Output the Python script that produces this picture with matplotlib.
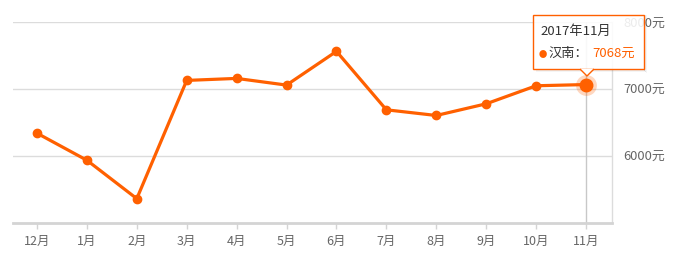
import matplotlib.pyplot as plt
from matplotlib.patches import Rectangle, Polygon

plt.rcParams['font.family'] = ['Noto Sans CJK SC', 'DejaVu Sans']

# data
months = ['12月', '1月', '2月', '3月', '4月', '5月', '6月', '7月', '8月', '9月', '10月', '11月']
prices = [6340, 5935, 5360, 7130, 7160, 7060, 7565, 6690, 6605, 6780, 7050, 7068]
yticks = [6000, 7000, 8000]
series_name = '汉南'
tip_title = '2017年11月'

orange = '#ff6000'
grid_c = '#dcdcdc'
text_c = '#666666'

fig = plt.figure(figsize=(6.9, 2.7), dpi=100)
ax = fig.add_axes([13 / 690, 1 - 222.7 / 270, (612 - 13) / 690, (222.7 - 22.3) / 270])

x = list(range(len(months)))
ax.set_xlim(-0.48, 11.52)
ax.set_ylim(5000, 8000)

# grid lines
for v in yticks:
    ax.axhline(v, color=grid_c, lw=1, zorder=1)

# crosshair at last point
ax.axvline(x[-1], color='#c8c8c8', lw=1, zorder=1)

ax.plot(x, prices, color=orange, lw=2.3, marker='o', ms=6, zorder=3, solid_joinstyle='round')
# highlighted last point
ax.plot(x[-1], prices[-1], 'o', color=orange, ms=15, alpha=0.25, mec='none', zorder=4)
ax.plot(x[-1], prices[-1], 'o', color=orange, ms=9, zorder=5)

for s in ['left', 'top']:
    ax.spines[s].set_visible(False)
ax.spines['bottom'].set_color('#d4d4d4')
ax.spines['bottom'].set_linewidth(2)
ax.spines['right'].set_color('#dcdcdc')
ax.spines['right'].set_linewidth(1)

ax.set_xticks(x)
ax.set_xticklabels(months, fontsize=9, color=text_c)
ax.tick_params(axis='x', length=4, width=1, color='#d4d4d4', pad=5)

ax.yaxis.tick_right()
ax.set_yticks(yticks)
ax.set_yticklabels([f'{v}元' for v in yticks], fontsize=9.3, color=text_c)
ax.tick_params(axis='y', length=0, pad=8)

# tooltip (in figure pixels)
def fx(px):
    return px / 690

def fy(py):
    return 1 - py / 270

# soft shadow along right and bottom edges
for i, a in enumerate([0.12, 0.07, 0.04]):
    fig.patches.append(Rectangle((fx(644 + i), fy(71 + i)), fx(1), fy(15) - fy(71 + i),
                                 transform=fig.transFigure, fc='black', ec='none', alpha=a, zorder=9))
    fig.patches.append(Rectangle((fx(536), fy(70 + i)), fx(644 + i) - fx(536), fx(0) + 1 / 270,
                                 transform=fig.transFigure, fc='black', ec='none', alpha=a, zorder=9))
box = Rectangle((fx(533), fy(69)), fx(644) - fx(533), fy(15) - fy(69),
                transform=fig.transFigure, fc=(1, 1, 1, 0.88), ec=orange, lw=1, zorder=10)
fig.patches.append(box)
tri = Polygon([[fx(580), fy(69)], [fx(587), fy(76)], [fx(594), fy(69)]],
              closed=False, transform=fig.transFigure, fc='white', ec=orange, lw=1, zorder=11)
fig.patches.append(tri)

fig.text(fx(540), fy(31), tip_title, fontsize=9.5, color='#333333', va='center', zorder=12)
fig.text(fx(539), fy(54), '●', fontsize=6, color=orange, va='center', zorder=12)
fig.text(fx(548), fy(53), f'{series_name}：', fontsize=9.5, color='#333333', va='center', zorder=12)
fig.text(fx(592), fy(53), f'{prices[-1]}元', fontsize=9.5, color=orange, va='center', zorder=12)

fig.savefig('out.png', dpi=100)
